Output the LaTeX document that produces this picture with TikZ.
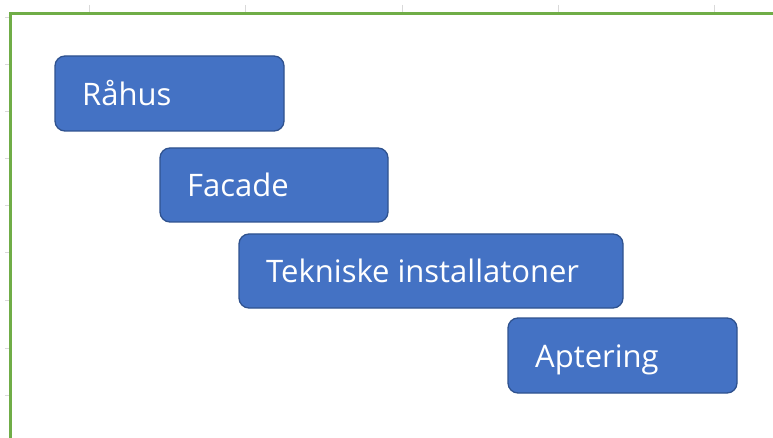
\documentclass[tikz,border=0pt]{standalone}
\usepackage{fontspec}
\setmainfont{Open Sans}
\definecolor{boxfill}{HTML}{4472C4}
\definecolor{boxline}{HTML}{2F528F}
\definecolor{frame}{HTML}{70AD47}
\definecolor{tick}{HTML}{D9D9D9}
\begin{document}
\begin{tikzpicture}[x=1pt,y=-1pt,
  bar/.style={draw=boxline,line width=1.3pt,fill=boxfill,rounded corners=10pt},
  lbl/.style={text=white,anchor=base west,font=\fontsize{31}{36}\selectfont,inner sep=0pt},
  tickline/.style={draw=tick,line width=1pt}]
\useasboundingbox (0,0) rectangle (773,438);
% ticks
\foreach \x in {89,245,402,558,714} \draw[tickline] (\x,5) -- (\x,12);
\foreach \y in {18,65,112,159,206,253,300,348,395} \draw[tickline] (5,\y) -- (9,\y);
% frame
\draw[frame,line width=2.2pt] (10.5,440) -- (10.5,13.5) -- (775,13.5);
% bars
\draw[bar] (55,56) rectangle (284,131);
\node[lbl] (r) at (82,105.5) {Råhus};
\draw[bar] (160,148) rectangle (388,222);
\node[lbl] (f) at (187,197) {Facade};
\draw[bar] (239,234) rectangle (623,308);
\node[lbl] (t) at (266,282.5) {Tekniske installatoner};
\draw[bar] (508,318) rectangle (737,393);
\node[lbl] (a) at (535,367) {Aptering};
\end{tikzpicture}
\end{document}
